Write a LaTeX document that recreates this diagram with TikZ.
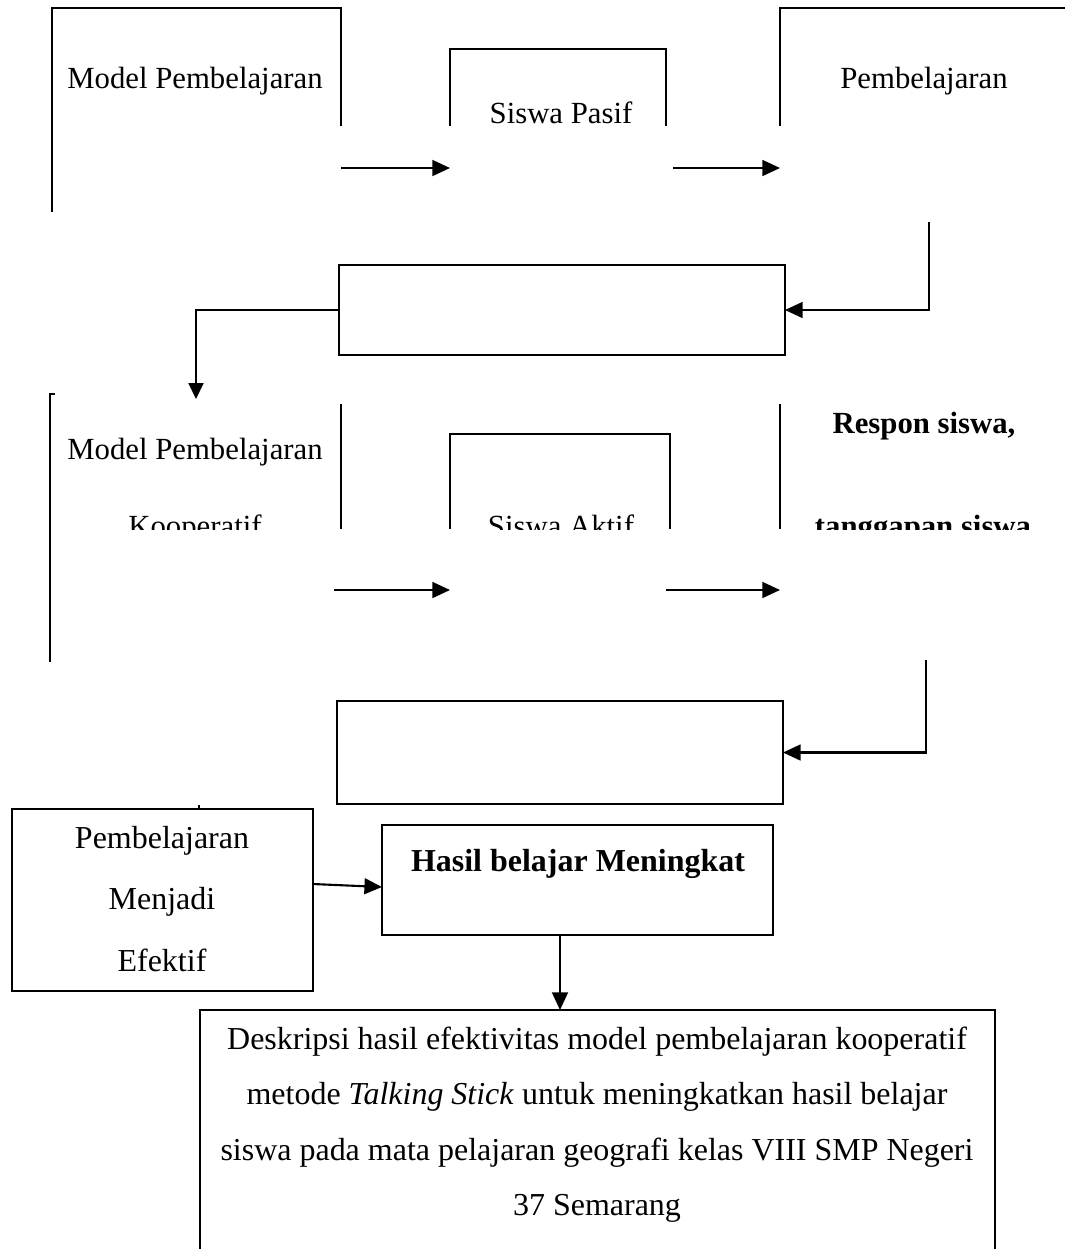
\documentclass[tikz,border=0pt]{standalone}
\usepackage{fontspec}
\setmainfont{Liberation Serif}
\usetikzlibrary{arrows.meta,fit}
\tikzset{
  boxarea/.style={inner sep=0pt,outer sep=0pt},
  boxline/.style={line width=1.6pt},
  thinline/.style={line width=0.8pt},
  arr/.style={line width=1.2pt,-{Triangle[length=10pt,width=9pt]}},
  txt/.style={anchor=base,inner sep=0pt,font=\fontsize{17.5}{21}\selectfont},
  txtb/.style={anchor=base,inner sep=0pt,font=\fontsize{18.2}{22}\selectfont},
}
\begin{document}
\begin{tikzpicture}[x=0.02cm,y=-0.02cm]
\path[use as bounding box] (0,0) rectangle (1065,1249);
\coordinate (cut1) at (0,126);
\coordinate (cut2) at (0,529);
\coordinate (ar1) at (0,168);
\coordinate (ar2) at (0,590);
\coordinate (rt2) at (0,404);
% baris pertama
\node[boxarea,fit={(52,8) (341,212)}] (mp) {};
\node[boxarea,fit={(450,49) (666,126)}] (sp) {};
\node[boxarea,fit={(780,8) (1065,212)}] (pb) {};
\draw[boxline] (mp.south west) |- (mp.north east) -- (mp.east |- cut1);
\draw[boxline] (sp.south west) |- (sp.north east) -- (sp.south east);
\draw[boxline] (pb.west |- cut1) |- (pb.north east);
\node[txt] (mptxt) at (195,88) {Model Pembelajaran};
\node[txt] (sptxt) at (561,123) {Siswa Pasif};
\node[txt] (pbtxt) at (924,88) {Pembelajaran};
\draw[arr] (mp.east |- ar1) -- (sp.west |- ar1);
\draw[arr] ([xshift=4]sp.east |- ar1) -- (pb.west |- ar1);
\node[boxarea,draw,thinline,fit={(339,265) (785,355)}] (rk1) {};
\coordinate (fb1) at (929,222);
\coordinate (tip1) at (196,399);
\draw[arr] (fb1) |- (rk1.east);
\draw[thinline,-{Triangle[length=9pt,width=8.5pt]}] (rk1.west) -| (tip1);
% baris kedua
\node[boxarea,fit={(50,394) (341,662)}] (mk) {};
\node[boxarea,fit={(450,434) (670,529)}] (sa) {};
\node[boxarea,fit={(780,404) (1065,662)}] (rs) {};
\draw[boxline] (mk.south west) -- (mk.north west) -- ++(5,0);
\draw[boxline] (mk.east |- rt2) -- (mk.east |- cut2);
\draw[boxline] (sa.south west) |- (sa.north east) -- (sa.south east);
\draw[boxline] (rs.north west) -- (rs.west |- cut2);
\node[txt] (mktxt) at (195,459) {Model Pembelajaran};
\node[txt,font=\fontsize{17.5}{21}\selectfont\bfseries] (rstxt) at (924,433) {Respon siswa,};
\begin{scope}
\clip (0,0) rectangle (1065,529);
\node[txt] (kptxt) at (195,536) {Kooperatif};
\node[txt] (satxt) at (561,536) {Siswa Aktif};
\node[txt,font=\fontsize{17.5}{21}\selectfont\bfseries] (tgtxt) at (923,536) {tanggapan siswa};
\end{scope}
\draw[arr] ([xshift=-4]mk.east |- ar2) -- (sa.west |- ar2);
\draw[arr] ([xshift=-2]sa.east |- ar2) -- (rs.west |- ar2);
\node[boxarea,draw,thinline,fit={(337,701) (783,804)}] (rk2) {};
\coordinate (fb2) at (926,660);
\draw[arr] (fb2) |- (rk2.east);
\coordinate (tk) at (199,805);
\draw[thinline] (tk) -- ++(0,4);
% bagian bawah
\node[boxarea,draw,line width=1.1pt,fit={(12,809) (313,991)}] (pe) {};
\node[boxarea,draw,line width=1.1pt,fit={(382,825) (773,935)}] (hb) {};
\node[boxarea,fit={(200,1010) (995,1249)}] (dk) {};
\draw[thinline] (dk.south west) |- (dk.north east) -- (dk.south east);
\node[txtb] (pe1) at (162,848) {Pembelajaran};
\node[txtb] (pe2) at (162,909) {Menjadi};
\node[txtb] (pe3) at (162,971) {Efektif};
\node[txtb,font=\fontsize{18.2}{22}\selectfont\bfseries] (hbtxt) at (578,871) {Hasil belajar Meningkat};
\coordinate (a5s) at (0,884);
\coordinate (a5e) at (0,887);
\coordinate (a6) at (560,0);
\draw[arr] (pe.east |- a5s) -- (hb.west |- a5e);
\draw[arr] (hb.south -| a6) -- (dk.north -| a6);
\node[txtb] (d1) at (597,1049) {Deskripsi hasil efektivitas model pembelajaran kooperatif};
\node[txtb] (d2) at (597,1104) {metode \textit{Talking Stick} untuk meningkatkan hasil belajar};
\node[txtb] (d3) at (597,1160) {siswa pada mata pelajaran geografi kelas VIII SMP Negeri};
\node[txtb] (d4) at (597,1215) {37 Semarang};
\end{tikzpicture}
\end{document}
